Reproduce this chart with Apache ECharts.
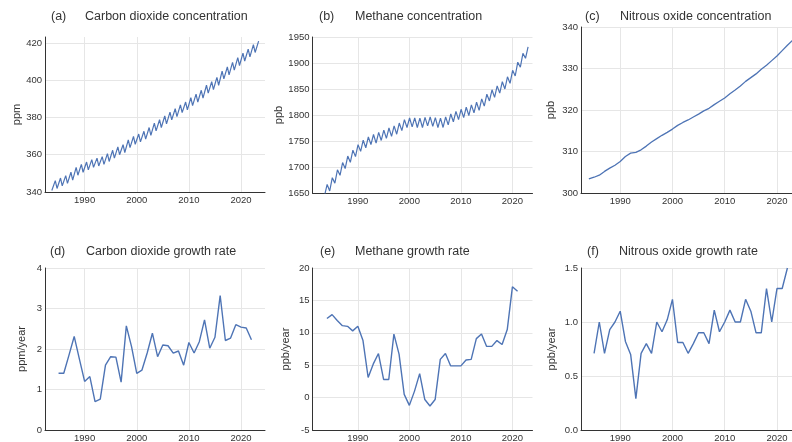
<!DOCTYPE html>
<html><head><meta charset="utf-8">
<script src="https://cdn.jsdelivr.net/npm/echarts@6/dist/echarts.min.js"></script>
<style>html,body{margin:0;padding:0;background:#fff}#c{width:792px;height:442px}</style>
</head><body><div id="c"></div>
<script>
// ---- data ----
const co2Years = [1983,1984,1985,1986,1987,1988,1989,1990,1991,1992,1993,1994,1995,1996,1997,1998,1999,2000,2001,2002,2003,2004,2005,2006,2007,2008,2009,2010,2011,2012,2013,2014,2015,2016,2017,2018,2019,2020,2021,2022,2023];
const co2PeakMonth = 5, co2TroughMonth = 9;
const co2Peak = [null,346.1,347.5,348.8,350.6,353.2,354.8,356.1,357.4,358.2,359.0,360.6,362.4,364.2,365.4,368.0,369.8,371.1,372.6,374.6,377.0,378.8,380.8,382.9,384.7,386.8,388.3,390.6,392.5,394.6,397.3,399.2,401.5,404.9,407.1,409.6,412.1,414.5,416.7,419.1,421.0];
const co2Trough = [340.8,341.9,343.3,344.6,346.4,349.0,350.6,351.9,353.2,354.0,354.8,356.4,358.2,360.0,361.2,363.8,365.6,366.9,368.4,370.4,372.8,374.6,376.6,378.7,380.5,382.6,384.1,386.4,388.3,390.4,393.1,395.0,397.3,400.7,402.9,405.4,407.9,410.3,412.5,414.9,null];

const ch4Years = co2Years;
const ch4PeakMonth = 1, ch4TroughMonth = 7;
const ch4Peak = [null,1666.5,1679.5,1694.5,1708.5,1721,1732.5,1743,1751.5,1758,1762.5,1766.5,1771,1775,1779,1784.5,1791,1794.5,1794.5,1794,1795.5,1796.5,1795,1794,1796.5,1802,1807,1811,1815,1819.5,1824.5,1831,1840,1848.5,1856,1864,1873.5,1886,1901.5,1918.5,1931];
const ch4Trough = [1645,1654,1669,1684,1697,1709,1720,1730,1737,1743,1746,1751,1755,1759,1763,1770,1776,1777,1776,1776,1779,1778,1776,1776,1781,1787,1791,1795,1799,1804,1809,1817,1827,1834,1842,1850,1861,1875,1892,1909,null];

const n2oYears = [1984,1985,1986,1987,1988,1989,1990,1991,1992,1993,1994,1995,1996,1997,1998,1999,2000,2001,2002,2003,2004,2005,2006,2007,2008,2009,2010,2011,2012,2013,2014,2015,2016,2017,2018,2019,2020,2021,2022,2023];
const n2oValues = [303.4,303.8,304.3,305.2,306.0,306.7,307.6,308.8,309.6,309.8,310.4,311.3,312.3,313.1,313.9,314.6,315.4,316.3,317.0,317.6,318.3,319.0,319.8,320.4,321.3,322.1,322.9,323.9,324.8,325.8,326.9,327.8,328.7,329.8,330.8,331.9,333.0,334.3,335.6,336.8];

const co2GrowthYears = [1985,1986,1987,1988,1989,1990,1991,1992,1993,1994,1995,1996,1997,1998,1999,2000,2001,2002,2003,2004,2005,2006,2007,2008,2009,2010,2011,2012,2013,2014,2015,2016,2017,2018,2019,2020,2021,2022];
const co2Growth = [1.40,1.40,1.85,2.31,1.75,1.20,1.32,0.70,0.76,1.60,1.81,1.80,1.18,2.57,2.06,1.40,1.48,1.90,2.39,1.81,2.10,2.08,1.90,1.95,1.60,2.16,1.90,2.18,2.72,2.02,2.29,3.32,2.21,2.27,2.60,2.54,2.52,2.23];

const ch4GrowthYears = [1984,1985,1986,1987,1988,1989,1990,1991,1992,1993,1994,1995,1996,1997,1998,1999,2000,2001,2002,2003,2004,2005,2006,2007,2008,2009,2010,2011,2012,2013,2014,2015,2016,2017,2018,2019,2020,2021];
const ch4Growth = [12.2,12.8,11.9,11.1,11.0,10.3,11.0,8.8,3.1,5.2,6.8,2.8,2.8,9.8,6.7,0.5,-1.2,1.0,3.7,-0.3,-1.3,-0.3,5.9,6.8,4.9,4.9,4.9,5.8,5.9,9.1,9.8,7.9,7.9,8.8,8.2,10.5,17.1,16.4];

const n2oGrowthYears = co2GrowthYears;
const n2oGrowth = [0.71,1.0,0.71,0.93,1.0,1.1,0.82,0.70,0.29,0.71,0.80,0.71,1.0,0.91,1.02,1.21,0.81,0.81,0.71,0.80,0.90,0.90,0.80,1.11,0.91,1.0,1.11,1.0,1.0,1.21,1.1,0.9,0.9,1.31,1.0,1.31,1.31,1.5];

const xTickLabels = [1990, 2000, 2010, 2020];

// ---- build series data ----
function seasonal(years, peak, pm, trough, tm) {
  const pts = [];
  years.forEach((y, i) => {
    const a = [];
    if (peak[i] != null) a.push([y + (pm - 0.5) / 12, peak[i]]);
    if (trough[i] != null) a.push([y + (tm - 0.5) / 12, trough[i]]);
    a.sort((p, q) => p[0] - q[0]);
    pts.push(...a);
  });
  return pts;
}
const zip = (xs, ys) => xs.map((x, i) => [x, ys[i]]);

const FONT = '"Liberation Sans", Arial, sans-serif';
const TXT = '#333';
const GRIDC = '#e6e6e6';
const LINEC = '#4e74b5';

const panels = [
  {tag:'(a)', title:'Carbon dioxide concentration', name:'ppm', left:45, top:37, h:155, x:[1982.4,2024.6], y:[340,423.2,20], gap:21, tagX:51, titleX:85, ty:17, data:seasonal(co2Years,co2Peak,co2PeakMonth,co2Trough,co2TroughMonth), w:1.2, noTop:true, dec:0},
  {tag:'(b)', title:'Methane concentration', name:'ppb', left:312.5, top:37, h:156, x:[1981.2,2023.9], y:[1650,1950,50], gap:24, tagX:319, titleX:355, ty:17, data:seasonal(ch4Years,ch4Peak,ch4PeakMonth,ch4Trough,ch4TroughMonth), w:1.2, dec:0},
  {tag:'(c)', title:'Nitrous oxide concentration', name:'ppb', left:581, top:27, h:166, x:[1982.5,2024.6], y:[300,340,10], gap:25, tagX:585, titleX:620, ty:17, data:zip(n2oYears,n2oValues), w:1.3, dec:0},
  {tag:'(d)', title:'Carbon dioxide growth rate', name:'ppm/year', left:45, top:268, h:162, x:[1982.4,2024.6], y:[0,4,1], gap:18, tagX:50, titleX:86, ty:252, data:zip(co2GrowthYears,co2Growth), w:1.4, dec:0},
  {tag:'(e)', title:'Methane growth rate', name:'ppb/year', left:312.5, top:268, h:162, x:[1981.2,2023.9], y:[-5,20,5], gap:21, tagX:320, titleX:355, ty:252, data:zip(ch4GrowthYears,ch4Growth), w:1.4, dec:0},
  {tag:'(f)', title:'Nitrous oxide growth rate', name:'ppb/year', left:581, top:268, h:162, x:[1982.5,2024.6], y:[0,1.5,0.5], gap:24, tagX:587, titleX:619, ty:252, data:zip(n2oGrowthYears,n2oGrowth), w:1.4, dec:1}
];

const option = {
  animation: false,
  backgroundColor: '#fff',
  grid: [], xAxis: [], yAxis: [], series: [], graphic: []
};

panels.forEach((p, i) => {
  option.grid.push({left:p.left, top:p.top, width:220, height:p.h, containLabel:false, outerBoundsMode:'none'});
  option.xAxis.push({
    gridIndex:i, type:'value', min:p.x[0], max:p.x[1], splitNumber:4, minInterval:10, maxInterval:10,
    axisLine:{show:true, onZero:false, lineStyle:{color:TXT, width:1}},
    axisTick:{show:false},
    axisLabel:{color:TXT, fontSize:9.5, fontFamily:FONT, margin:3,
      formatter: v => xTickLabels.some(t => Math.abs(t - v) < 1e-6) ? String(Math.round(v)) : ''},
    splitLine:{show:true, showMinLine:false, showMaxLine:false, lineStyle:{color:GRIDC, width:1}}
  });
  const step = p.y[2];
  option.yAxis.push({
    gridIndex:i, type:'value', min:p.y[0], max:p.y[1], interval:step,
    axisLine:{show:true, lineStyle:{color:TXT, width:1}},
    axisTick:{show:false},
    axisLabel:{color:TXT, fontSize:9.5, fontFamily:FONT, margin:3,
      formatter: v => { const k = (v - p.y[0]) / step; return Math.abs(k - Math.round(k)) < 1e-6 ? v.toFixed(p.dec) : ''; }},
    splitLine:{show:true, showMinLine:false, showMaxLine:!p.noTop, lineStyle:{color:GRIDC, width:1}},
    name:p.name, nameLocation:'middle', nameGap:p.gap, nameRotate:90,
    nameTextStyle:{color:TXT, fontSize:11, fontFamily:FONT}
  });
  option.series.push({
    type:'line', xAxisIndex:i, yAxisIndex:i, data:p.data, showSymbol:false, symbol:'none',
    lineStyle:{color:LINEC, width:p.w}, silent:true, animation:false
  });
  option.graphic.push({type:'text', x:p.tagX, y:p.ty, silent:true,
    style:{text:p.tag, fill:TXT, font:'12.5px ' + FONT, verticalAlign:'middle', align:'left'}});
  option.graphic.push({type:'text', x:p.titleX, y:p.ty, silent:true,
    style:{text:p.title, fill:TXT, font:'12.5px ' + FONT, verticalAlign:'middle', align:'left'}});
});

const chart = echarts.init(document.getElementById('c'), null, {renderer:'canvas'});
chart.setOption(option);
</script>
</body></html>
